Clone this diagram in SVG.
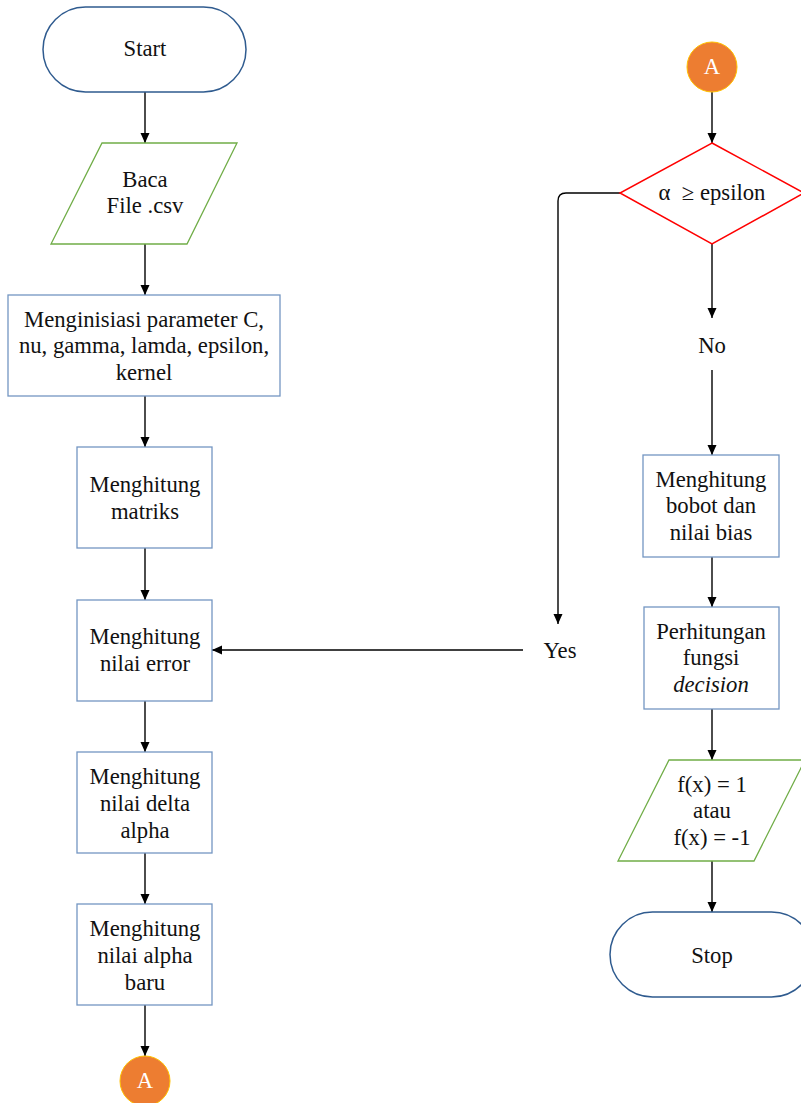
<svg xmlns="http://www.w3.org/2000/svg" width="801" height="1103" viewBox="0 0 801 1103">
<style>
text{font-family:"Liberation Serif","Times New Roman",serif;font-size:22.7px;fill:#111;text-anchor:middle}
.term{fill:#fff;stroke:#2F5B8F;stroke-width:1.5}
.proc{fill:#fff;stroke:#7396C2;stroke-width:1.3}
.io{fill:#fff;stroke:#70AD47;stroke-width:1.3}
.dec{fill:#fff;stroke:#FF0000;stroke-width:1.5}
.con{fill:#ED7D31;stroke:#FFC000;stroke-width:1}
.con-t{fill:#fff}
.edge{fill:none;stroke:#000;stroke-width:1.4}
</style>
<defs>
<marker id="arr" markerWidth="10" markerHeight="10" refX="10" refY="5" orient="auto" markerUnits="userSpaceOnUse">
<path d="M0,0.5 L10,5 L0,9.5 Z" fill="#000"/>
</marker>
</defs>
<rect width="801" height="1103" fill="#fff"/>

<g id="connectors">
<line class="edge" x1="145" y1="92" x2="145" y2="143" marker-end="url(#arr)"/>
<line class="edge" x1="145" y1="244" x2="145" y2="295" marker-end="url(#arr)"/>
<line class="edge" x1="145" y1="396" x2="145" y2="447" marker-end="url(#arr)"/>
<line class="edge" x1="145" y1="548" x2="145" y2="600" marker-end="url(#arr)"/>
<line class="edge" x1="145" y1="701" x2="145" y2="752" marker-end="url(#arr)"/>
<line class="edge" x1="145" y1="853" x2="145" y2="904" marker-end="url(#arr)"/>
<line class="edge" x1="145" y1="1005" x2="145" y2="1056" marker-end="url(#arr)"/>
<line class="edge" x1="712" y1="92" x2="712" y2="143" marker-end="url(#arr)"/>
<path class="edge" d="M620,193 H566 Q558,193 558,201 V624" marker-end="url(#arr)"/>
<line class="edge" x1="523" y1="650" x2="212" y2="650" marker-end="url(#arr)"/>
<line class="edge" x1="712" y1="244" x2="712" y2="318" marker-end="url(#arr)"/>
<line class="edge" x1="712" y1="370" x2="712" y2="455" marker-end="url(#arr)"/>
<line class="edge" x1="712" y1="557" x2="712" y2="607" marker-end="url(#arr)"/>
<line class="edge" x1="712" y1="709" x2="712" y2="760" marker-end="url(#arr)"/>
<line class="edge" x1="712" y1="861" x2="712" y2="912" marker-end="url(#arr)"/>
<text x="560" y="658">Yes</text>
<text x="712" y="353">No</text>
</g>

<g id="start">
<rect class="term" x="43" y="7" width="203" height="85" rx="42.5"/>
<text x="145" y="56">Start</text>
</g>

<g id="read-csv">
<polygon class="io" points="102,143 237,143 187,244 51,244"/>
<text x="145" y="187">Baca</text>
<text x="145" y="213">File .csv</text>
</g>

<g id="init-params">
<rect class="proc" x="8" y="295" width="272" height="101"/>
<text x="144" y="327">Menginisiasi parameter C,</text>
<text x="144" y="353">nu, gamma, lamda, epsilon,</text>
<text x="144" y="380">kernel</text>
</g>

<g id="calc-matrix">
<rect class="proc" x="77" y="447" width="135" height="101"/>
<text x="145" y="492">Menghitung</text>
<text x="145" y="519">matriks</text>
</g>

<g id="calc-error">
<rect class="proc" x="77" y="600" width="135" height="101"/>
<text x="145" y="644">Menghitung</text>
<text x="145" y="671">nilai error</text>
</g>

<g id="calc-delta">
<rect class="proc" x="77" y="752" width="135" height="101"/>
<text x="145" y="784">Menghitung</text>
<text x="145" y="811">nilai delta</text>
<text x="145" y="838">alpha</text>
</g>

<g id="calc-alpha">
<rect class="proc" x="77" y="904" width="135" height="101"/>
<text x="145" y="936">Menghitung</text>
<text x="145" y="963">nilai alpha</text>
<text x="145" y="990">baru</text>
</g>

<g id="connector-a-out">
<circle class="con" cx="145" cy="1081" r="25"/>
<text class="con-t" x="145" y="1088">A</text>
</g>

<g id="connector-a-in">
<circle class="con" cx="712" cy="67" r="25"/>
<text class="con-t" x="712" y="74">A</text>
</g>

<g id="decision">
<polygon class="dec" points="712,143 804,193 712,244 620,193"/>
<text x="712" y="200" xml:space="preserve">α  ≥ epsilon</text>
</g>

<g id="calc-weights">
<rect class="proc" x="643" y="455" width="136" height="102"/>
<text x="711" y="487">Menghitung</text>
<text x="711" y="513">bobot dan</text>
<text x="711" y="540">nilai bias</text>
</g>

<g id="decision-func">
<rect class="proc" x="644" y="607" width="135" height="102"/>
<text x="711" y="639">Perhitungan</text>
<text x="711" y="665">fungsi</text>
<text x="711" y="692" font-style="italic">decision</text>
</g>

<g id="output">
<polygon class="io" points="669,760 805,760 754,861 618,861"/>
<text x="712" y="792">f(x) = 1</text>
<text x="712" y="818">atau</text>
<text x="712" y="845">f(x) = -1</text>
</g>

<g id="stop">
<rect class="term" x="610" y="912" width="204" height="85" rx="42.5"/>
<text x="712" y="963">Stop</text>
</g>
</svg>
